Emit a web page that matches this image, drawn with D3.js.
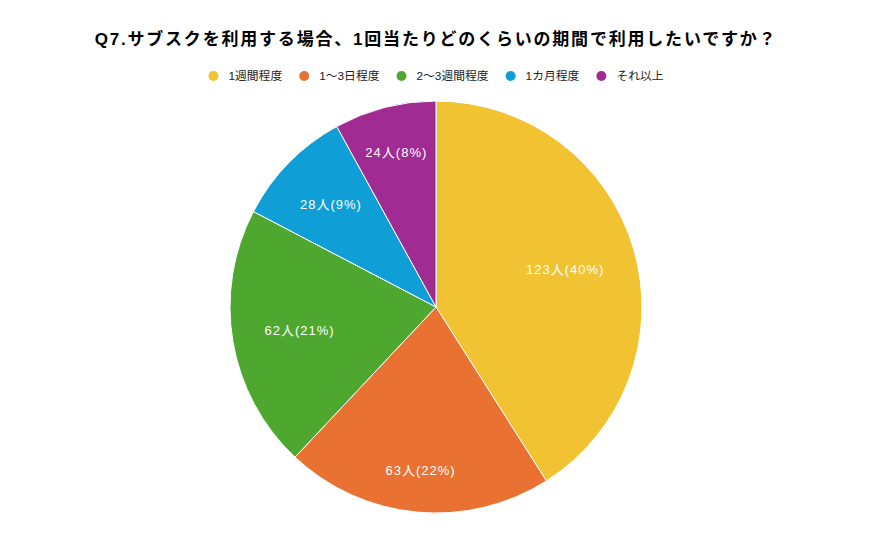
<!DOCTYPE html>
<html>
<head>
<meta charset="utf-8">
<script src="https://cdnjs.cloudflare.com/ajax/libs/d3/7.8.5/d3.min.js"></script>
<style>
  body { margin: 0; background: #fff; }
  text { font-family: Arial, "Liberation Sans", "Noto Sans CJK JP", sans-serif; }
</style>
</head>
<body>
<div id="chart"></div>
<script>
(function () {
  'use strict';

  var title = 'Q7.サブスクを利用する場合、1回当たりどのくらいの期間で利用したいですか？';
  var categories = ['1週間程度', '1～3日程度', '2～3週間程度', '1カ月程度', 'それ以上'];
  var counts = [123, 63, 62, 28, 24];
  var percentLabels = ['40%', '22%', '21%', '9%', '8%'];
  var colors = ['#F1C232', '#E97132', '#4EA72E', '#0F9ED5', '#A02B93'];

  var width = 873, height = 540;
  var cx = 436, cy = 307, radius = 206;

  var svg = d3.select('#chart')
  .append('svg')
  .attr('width', width)
  .attr('height', height);

  // title
  svg.append('text')
  .attr('x', cx)
  .attr('y', 45)
  .attr('text-anchor', 'middle')
  .style('font-size', '17px')
  .style('font-weight', 'bold')
  .style('letter-spacing', '1.8px')
  .style('fill', '#000')
  .text(title);

  // legend
  var legend = svg.append('g').attr('transform', 'translate(0,76)');
  var items = legend.selectAll('g.item')
  .data(categories)
  .enter()
  .append('g')
  .attr('class', 'item');

  items.append('circle')
  .attr('r', 5)
  .style('fill', function (d, i) { return colors[i]; });

  items.append('text')
  .attr('x', 15)
  .attr('dy', '0.35em')
  .style('font-size', '11.8px')
  .style('fill', '#222')
  .text(function (d) { return d; });

  // lay out legend items centred
  var gap = 22, widths = [];
  items.each(function () {
    widths.push(15 + d3.select(this).select('text').node().getComputedTextLength());
  });
  var total = d3.sum(widths) + gap * (widths.length - 1) + 5;
  var xpos = cx - total / 2 + 5;
  items.attr('transform', function (d, i) {
    var x = xpos;
    xpos += widths[i] + gap;
    return 'translate(' + x + ',0)';
  });

  // pie
  var pie = d3.pie().sort(null).value(function (d) { return d; });
  var arc = d3.arc().innerRadius(0).outerRadius(radius);
  var arcs = pie(counts);

  var g = svg.append('g').attr('transform', 'translate(' + cx + ',' + cy + ')');

  g.selectAll('path')
  .data(arcs)
  .enter()
  .append('path')
  .attr('d', arc)
  .style('fill', function (d, i) { return colors[i]; })
  .style('stroke', '#fff')
  .style('stroke-width', 1);

  // labels: outer edge of the text box sits at a fixed radius
  var edge = radius * 0.845;
  var labels = g.selectAll('text.lbl')
  .data(arcs)
  .enter()
  .append('text')
  .attr('class', 'lbl')
  .attr('text-anchor', 'middle')
  .attr('dy', '0.35em')
  .style('font-size', '13px')
  .style('letter-spacing', '1px')
  .style('fill', '#fff')
  .text(function (d, i) { return counts[i] + '人(' + percentLabels[i] + ')'; });

  labels.each(function (d) {
    var el = d3.select(this);
    var w = this.getComputedTextLength();
    var a = (d.startAngle + d.endAngle) / 2;
    var s = Math.sin(a), c = Math.cos(a);
    var r = edge - (w / 2) * Math.abs(s) - 7 * Math.abs(c);
    el.attr('x', r * s).attr('y', -r * c);
  });
})();
</script>
</body>
</html>
